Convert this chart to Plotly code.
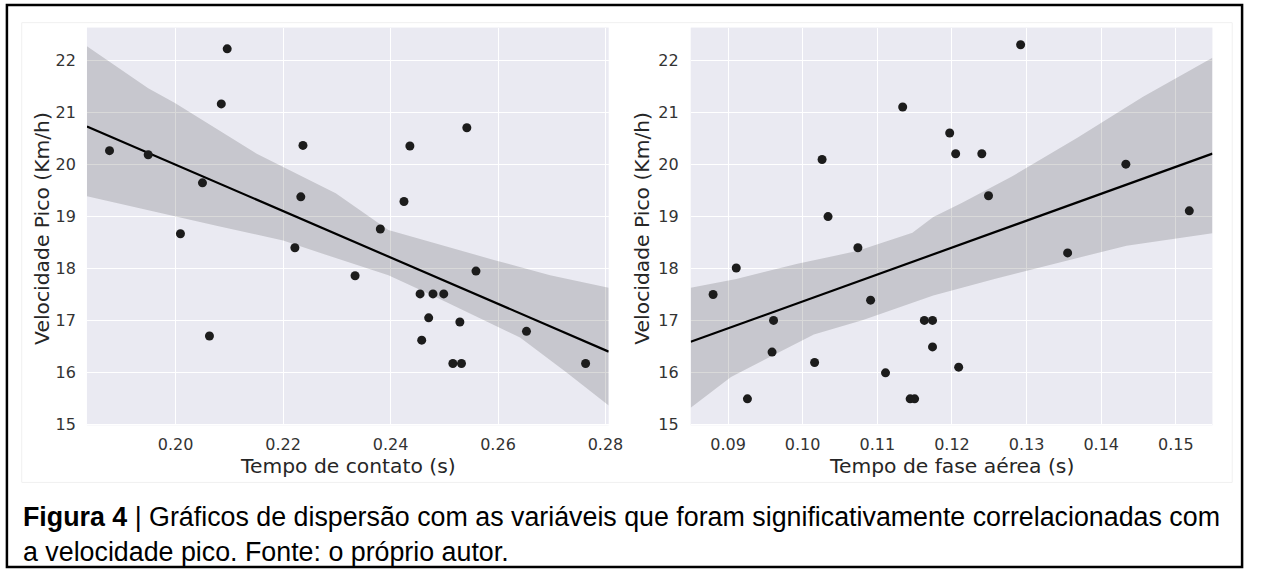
import numpy as np
import plotly.graph_objects as go

# ---------------- data ----------------
contact_time = [0.1877, 0.1949, 0.2050, 0.2096, 0.2085, 0.2237, 0.2233, 0.2009,
                0.2542, 0.2436, 0.2425, 0.2381, 0.2063, 0.2222, 0.2334, 0.2559,
                0.2455, 0.2479, 0.2499, 0.2471, 0.2529, 0.2458, 0.2516, 0.2532,
                0.2653, 0.2763]
contact_speed = [20.27, 20.19, 19.65, 22.23, 21.17, 20.37, 19.38, 18.67,
                 20.71, 20.36, 19.29, 18.76, 16.70, 18.40, 17.86, 17.95,
                 17.51, 17.51, 17.51, 17.05, 16.97, 16.62, 16.17, 16.17,
                 16.79, 16.17]

aerial_time = [0.0880, 0.0911, 0.0926, 0.0961, 0.0959, 0.1016, 0.1026, 0.1034,
               0.1074, 0.1091, 0.1134, 0.1111, 0.1144, 0.1150, 0.1163, 0.1174,
               0.1174, 0.1197, 0.1205, 0.1240, 0.1249, 0.1209, 0.1292, 0.1355,
               0.1433, 0.1518]
aerial_speed = [17.50, 18.01, 15.49, 17.00, 16.39, 16.19, 20.10, 19.00,
                18.40, 17.39, 21.11, 15.99, 15.49, 15.49, 17.00, 17.00,
                16.49, 20.61, 20.21, 20.21, 19.40, 16.10, 22.31, 18.30,
                20.01, 19.11]

# 95% confidence band edges of the regression
contact_ci_upper_x = [0.1835, 0.1949, 0.1998, 0.2151, 0.2298, 0.2396, 0.2594, 0.2697, 0.2806]
contact_ci_upper_y = [22.28, 21.47, 21.19, 20.21, 19.45, 18.74, 18.16, 17.87, 17.63]
contact_ci_lower_x = [0.1835, 0.1998, 0.2078, 0.2200, 0.2298, 0.2396, 0.2482, 0.2641, 0.2727, 0.2806]
contact_ci_lower_y = [19.39, 19.01, 18.82, 18.54, 18.20, 17.87, 17.46, 16.67, 16.00, 15.36]

aerial_ci_upper_x = [0.0850, 0.0911, 0.0993, 0.1074, 0.1147, 0.1175, 0.1213, 0.1279, 0.1368, 0.1456, 0.1549]
aerial_ci_upper_y = [17.63, 17.80, 18.09, 18.34, 18.69, 18.99, 19.26, 19.76, 20.52, 21.31, 22.06]
aerial_ci_lower_x = [0.0850, 0.0904, 0.0957, 0.1015, 0.1081, 0.1175, 0.1257, 0.1346, 0.1434, 0.1549]
aerial_ci_lower_y = [15.32, 15.91, 16.30, 16.73, 17.01, 17.48, 17.80, 18.12, 18.44, 18.68]

y_ticks = [15, 16, 17, 18, 19, 20, 21, 22]
contact_ticks = [0.20, 0.22, 0.24, 0.26, 0.28]
aerial_ticks = [0.09, 0.10, 0.11, 0.12, 0.13, 0.14, 0.15]

y_title = "Velocidade Pico (Km/h)"
contact_title = "Tempo de contato (s)"
aerial_title = "Tempo de fase aérea (s)"
caption_line1 = "<b>Figura 4</b> | Gráficos de dispersão com as variáveis que foram significativamente correlacionadas com"
caption_line2 = "a velocidade pico. Fonte: o próprio autor."

# ---------------- layout helpers ----------------
W, H = 1264, 581
def fx(p):
    return p / W
def fy(p):
    return 1 - p / H

contact_range = [0.1835, 0.2806]
aerial_range = [0.0850, 0.1549]
y_range = [14.98, 22.64]

BG = "#EAEAF2"
BAND = "rgba(0,0,0,0.15)"
DOT = "#1c1c1c"
TXT = "#262626"
TICK_FONT = dict(family="DejaVu Sans", size=16, color="#333333")
TITLE_FONT = dict(family="DejaVu Sans", size=20.3, color=TXT)


def fit_line(x, y, xr):
    b, a = np.polyfit(np.asarray(x, float), np.asarray(y, float), 1)
    xs = np.array(xr, float)
    return xs, a + b * xs


fig = go.Figure()

panels = [
    (contact_time, contact_speed, contact_range,
     contact_ci_upper_x, contact_ci_upper_y, contact_ci_lower_x, contact_ci_lower_y, "x", "y"),
    (aerial_time, aerial_speed, aerial_range,
     aerial_ci_upper_x, aerial_ci_upper_y, aerial_ci_lower_x, aerial_ci_lower_y, "x2", "y2"),
]
for xd, yd, xr, ux, uy, lx, ly, xa, ya in panels:
    fig.add_trace(go.Scatter(
        x=list(ux) + list(lx[::-1]), y=list(uy) + list(ly[::-1]),
        fill="toself", fillcolor=BAND, line=dict(width=0), mode="lines",
        hoverinfo="skip", showlegend=False, xaxis=xa, yaxis=ya))
    xs, yhat = fit_line(xd, yd, xr)
    fig.add_trace(go.Scatter(
        x=xs, y=yhat, mode="lines", line=dict(color="black", width=2.2),
        showlegend=False, xaxis=xa, yaxis=ya))
    fig.add_trace(go.Scatter(
        x=xd, y=yd, mode="markers",
        marker=dict(color=DOT, size=9, line=dict(width=0)),
        showlegend=False, xaxis=xa, yaxis=ya))

ydom = [fy(432), fy(28)]
common = dict(showgrid=True, gridcolor="white", gridwidth=1.3, zeroline=False,
              showline=False, ticks="", tickfont=TICK_FONT)

fig.update_layout(
    width=W, height=H,
    margin=dict(l=0, r=0, t=0, b=0),
    paper_bgcolor="white", plot_bgcolor=BG,
    showlegend=False,
    xaxis=dict(domain=[fx(88), fx(616)], range=contact_range, tickvals=contact_ticks,
               tickformat=".2f", anchor="y", ticklabelstandoff=8, **common),
    yaxis=dict(domain=ydom, range=y_range, tickvals=y_ticks, anchor="x",
               ticklabelstandoff=10, **common),
    xaxis2=dict(domain=[fx(699), fx(1227)], range=aerial_range, tickvals=aerial_ticks,
                tickformat=".2f", anchor="y2", ticklabelstandoff=8, **common),
    yaxis2=dict(domain=ydom, range=y_range, tickvals=y_ticks, anchor="x2",
                ticklabelstandoff=11, **common),
)

annotations = [
    dict(text=y_title, x=fx(43), y=fy(232), textangle=-90, font=TITLE_FONT),
    dict(text=y_title, x=fx(650), y=fy(232), textangle=-90, font=TITLE_FONT),
    dict(text=contact_title, x=fx(352), y=fy(473), font=TITLE_FONT),
    dict(text=aerial_title, x=fx(963), y=fy(473), font=TITLE_FONT),
]
for a in annotations:
    a.update(xref="paper", yref="paper", showarrow=False, xanchor="center", yanchor="middle")

cap_font = dict(family="Liberation Sans, Arial", size=26.8, color="black")
annotations.append(
    dict(text=caption_line1 + "<br>" + caption_line2, x=fx(21), y=fy(543),
         xref="paper", yref="paper", showarrow=False, xanchor="left",
         yanchor="middle", align="left", font=cap_font))
fig.update_layout(annotations=annotations)

fig.update_layout(shapes=[
    dict(type="rect", xref="paper", yref="paper", x0=fx(22), x1=fx(1247),
         y0=fy(490), y1=fy(23), line=dict(color="#f0f0f0", width=1), layer="below"),
    dict(type="rect", xref="paper", yref="paper", x0=fx(7), x1=fx(1257),
         y0=fy(576), y1=fy(5), line=dict(color="black", width=2.5)),
])

fig.write_html("out.html")
